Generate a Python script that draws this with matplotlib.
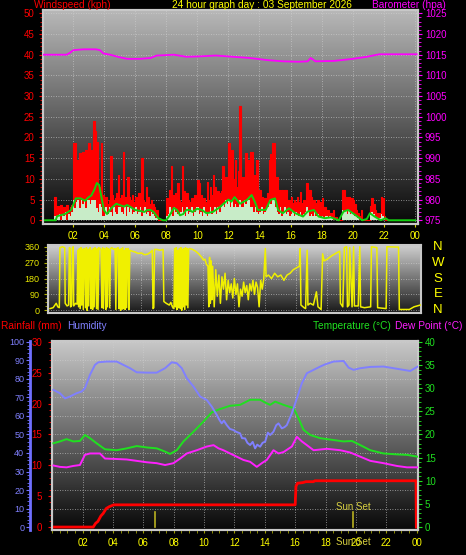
import numpy as np
import matplotlib
matplotlib.use('Agg')
import matplotlib.pyplot as plt
from matplotlib.colors import LinearSegmentedColormap
from matplotlib.ticker import MultipleLocator
from matplotlib.transforms import blended_transform_factory as btf

plt.rcParams['font.family'] = ['Liberation Sans', 'DejaVu Sans']

# ---------------- data ----------------
hour_ticks = [2, 4, 6, 8, 10, 12, 14, 16, 18, 20, 22, 24]
hour_labels = ['02', '04', '06', '08', '10', '12', '14', '16', '18', '20', '22', '00']

# wind, one value per 6 minutes (0.1 h), kph
wind_gust = [
    0, 0, 0, 0, 0, 0, 0, 0, 5.6, 2.5,
    3.5, 2.0, 3.7, 1.7, 3.3, 2.5, 3.7, 2.0, 3.3, 3.7,
    18.6, 18.6, 13, 14.6, 16.2, 11, 16.5, 15, 17, 13.5,
    18.6, 16.2, 17, 24, 21.5, 19, 5.7, 8, 18.6, 6,
    3.5, 5.7, 4, 5, 15.5, 6, 5, 5.5, 6.5, 11,
    5.5, 6, 16.6, 5.7, 4.5, 10.5, 5.7, 5, 6, 4.5,
    5.7, 5, 6.5, 5, 15, 5, 4.5, 8, 5.7, 4,
    5, 4, 3.3, 2.5, 2.5, 0, 0, 0, 0, 0,
    5.3, 5.3, 7.3, 13, 6, 4.5, 6.5, 9, 5, 4.5,
    13, 7, 5, 6.5, 5, 4.5, 5.5, 5, 6, 5,
    9.7, 9, 6, 5, 5.5, 4.5, 9.3, 5, 8, 6,
    11, 8, 6.5, 7, 6.5, 7, 13, 6.5, 10.5, 10,
    18.6, 11.4, 17, 10, 14.6, 8, 12, 27.5, 10.5, 10.5,
    10.5, 16.2, 14.6, 13.4, 16.6, 16.6, 11, 9.7, 14.6, 7.3,
    7.3, 5.7, 4.9, 5.3, 5.5, 6.5, 14.6, 16, 18.6, 18.6,
    10.5, 10.5, 7.3, 5.7, 7.3, 5.5, 7.3, 7.3, 5, 4.9,
    5.7, 4.1, 5, 4.5, 5.7, 4.5, 6.9, 4.1, 5, 4.5,
    9, 7.3, 7.3, 5.7, 5, 4.9, 4.1, 4.9, 3.3, 4.5,
    5.3, 3.3, 3.3, 2.5, 2.5, 1.7, 1.7, 2.5, 0.9, 0.9,
    0, 0, 0, 7.3, 7.3, 5.7, 4.9, 5.7, 4.5, 5.5,
    4.9, 4.0, 2.5, 1.7, 1.0, 2.5, 0, 0, 0, 0,
    0, 3.5, 5.3, 4, 2.5, 1.7, 0.9, 1.7, 5.7, 5.3,
    1, 0, 0, 0, 0, 0, 0, 0, 0, 0,
    0, 0, 0, 0, 0, 0, 0, 0, 0, 0,
]
wind_speed = [
    0, 0, 0, 0, 0, 0, 0, 0, 1, 0,
    1, 1.5, 0, 1.5, 1, 2, 0, 1.5, 1, 2,
    5, 3, 4.5, 5, 3, 5, 4, 5, 3, 5,
    5, 4, 5, 5, 5, 3, 2, 4, 3.3, 1,
    1, 3.3, 1.5, 3.3, 2, 1, 3.3, 2, 1.5, 3.3,
    3.3, 2, 1.5, 3.3, 1, 3.3, 2, 3.3, 1.5, 2,
    3.3, 1.5, 2, 3.3, 1, 2, 3.3, 1.5, 2, 1,
    2, 1.5, 1, 0.5, 0.5, 0, 0, 0, 0, 0,
    1, 1.5, 3.3, 1.5, 1, 3.3, 2, 1.5, 1, 2,
    3.3, 2, 1, 3.3, 1.5, 2, 3.3, 1, 2, 3.3,
    3.3, 1.5, 2, 1, 3.3, 2, 1, 2, 3.3, 1.5,
    2, 3.3, 1.5, 3.3, 2, 3.3, 4, 3.3, 5, 4,
    5, 3.3, 5, 3.3, 4, 3.3, 3.3, 5, 3.3, 3.3,
    5, 4, 5, 5, 3.3, 3.3, 2, 3.3, 2, 1.5,
    2, 3.3, 1.5, 2, 3.3, 3.3, 5, 4, 5, 5,
    3.3, 2, 1.5, 3.3, 1, 2, 3.3, 1.5, 2, 1,
    1.5, 2, 1, 2, 1.5, 1, 2, 1, 1.5, 2,
    3.3, 2, 1, 1.5, 1, 2, 1, 1.5, 1, 0.5,
    1, 0.5, 1, 1, 0.5, 1, 0.5, 0, 0, 0,
    0, 0, 0, 2.5, 2, 2.5, 1.5, 2.5, 1.5, 2,
    1.5, 1, 1, 0.5, 0, 0, 0, 0, 0, 0,
    0, 1.5, 2, 1.5, 1, 0.5, 0, 0.5, 1.5, 1,
    0.5, 0, 0, 0, 0, 0, 0, 0, 0, 0,
    0, 0, 0, 0, 0, 0, 0, 0, 0, 0,
]
wind_hours = np.arange(len(wind_gust)) * 0.1 + 0.05

avg_hours = [0.1, 0.9, 1.0, 1.5, 1.9, 2.2, 2.5, 2.8, 3.0, 3.2, 3.4, 3.55, 3.7, 3.85,
             4.0, 4.2, 4.5, 4.8, 5.0, 5.3, 5.5, 5.8, 6.0, 6.3, 6.6, 6.8, 7.0, 7.2,
             7.5, 7.8, 8.0, 8.2, 8.5, 8.7, 8.9, 9.1, 9.3, 9.5, 9.7, 10.0, 10.3, 10.6,
             11.0, 11.4, 11.7, 12.0, 12.2, 12.4, 12.75, 13.0, 13.2, 13.5, 13.7, 13.9,
             14.1, 14.4, 14.7, 15.0, 15.2, 15.5, 15.9, 16.3, 16.8, 17.1, 17.5, 17.8,
             18.2, 18.6, 19.1, 19.4, 19.7, 20.0, 20.3, 20.6, 20.9, 21.1, 21.4, 21.8,
             22.1, 22.3, 24.0]
avg_speed = [0, 0, 1, 1.5, 2.5, 5.3, 5.3, 4.7, 5.5, 6.0, 7.5, 9.0, 8.5, 5.5,
             2.5, 1.5, 3.0, 4.0, 3.7, 3.3, 3.7, 3.0, 2.5, 2.3, 2.0, 2.5, 2.5, 2.0,
             0.5, 0, 0, 1.0, 3.0, 2.5, 1.2, 1.5, 2.5, 2.5, 2.0, 2.8, 2.5, 1.7,
             2.0, 3.0, 4.0, 5.0, 4.5, 5.6, 4.0, 4.5, 4.9, 6.1, 4.5, 2.5,
             2.5, 2.5, 4.9, 5.3, 2.5, 1.7, 2.9, 1.7, 0.9, 2.1, 2.5, 0.9,
             0.5, 0.7, 0, 2.1, 2.5, 1.7, 0.9, 0, 0.3, 1.7, 0.9, 0,
             0.5, 0, 0]

baro_hours = [0.1, 1.6, 1.8, 2.04, 2.7, 3.5, 3.75, 3.97, 4.4, 5.0, 5.5, 6.3, 7.0, 7.4,
              8.0, 8.5, 9.3, 10.2, 11.2, 12.3, 13.4, 14.5, 15.5, 16.5, 17.1, 17.3,
              17.6, 18.8, 20.0, 20.9, 21.7, 23.0, 24.1]
baro_hpa = [1015.0, 1015.0, 1015.4, 1016.1, 1016.3, 1016.3, 1016.1, 1015.3, 1015.0,
            1014.4, 1014.0, 1014.0, 1014.2, 1014.8, 1014.9, 1015.0, 1014.5, 1014.6,
            1014.8, 1014.5, 1014.2, 1013.7, 1013.4, 1013.3, 1013.4, 1014.2, 1013.4,
            1013.5, 1014.0, 1014.5, 1015.1, 1015.1, 1015.1]

dir_hours = [0.1, 0.3, 0.5, 0.6, 0.7, 0.74, 0.9, 1.05, 1.08, 1.2, 1.3, 1.35, 1.4, 1.43,
             1.5, 1.55, 1.6, 1.63, 1.75, 1.85, 1.9, 1.95, 2.0, 2.05, 2.1, 2.15, 2.2,
             2.25, 2.3, 2.35, 2.4, 2.45, 2.5, 2.55, 2.6, 2.65, 2.7, 2.75, 2.8, 2.85,
             2.9, 2.95, 3.0, 3.05, 3.1, 3.15, 3.2, 3.25, 3.3, 3.35, 3.4, 3.45, 3.5,
             3.55, 3.6, 3.65, 3.7, 3.75, 3.8, 3.85, 3.9, 3.95, 4.0, 4.1, 4.2, 4.3,
             4.35, 4.4, 4.5, 4.55, 4.6, 4.65, 4.7, 4.75, 4.8, 4.85, 4.9, 4.95, 5.0,
             5.05, 5.1, 5.15, 5.2, 5.25, 5.4, 5.6, 5.8, 6.0, 6.2, 6.4, 6.6, 6.7, 6.75,
             6.8, 6.85, 7.0, 7.2, 7.4, 7.45, 7.6, 7.8, 7.9, 8.0, 8.1, 8.15, 8.2, 8.25,
             8.3, 8.35, 8.4, 8.45, 8.5, 8.55, 8.6, 8.65, 8.7, 8.75, 8.8, 8.85, 8.9,
             8.95, 9.0, 9.05, 9.1, 9.3, 9.5, 9.7, 9.9, 10.0, 10.1, 10.2, 10.3, 10.35,
             10.4, 10.45, 10.5, 10.55, 10.6, 10.7, 10.8, 10.9, 11.0, 11.1, 11.2, 11.3,
             11.4, 11.5, 11.6, 11.7, 11.8, 11.9, 12.0, 12.1, 12.2, 12.3, 12.4, 12.5,
             12.6, 12.7, 12.8, 12.9, 13.0, 13.1, 13.2, 13.3, 13.4, 13.5, 13.6, 13.7,
             13.8, 13.9, 14.0, 14.05, 14.2, 14.4, 14.6, 14.8, 15.0, 15.2, 15.4, 15.6,
             15.8, 16.0, 16.2, 16.25, 16.3, 16.5, 16.6, 16.7, 16.75, 16.9, 17.1, 17.3,
             17.4, 17.6, 17.7, 17.8, 18.0, 18.3, 18.6, 18.8, 18.85, 19.0, 19.1, 19.25,
             19.3, 19.4, 19.45, 19.6, 19.7, 19.75, 20.0, 20.1, 20.15, 20.4, 20.8, 20.85,
             21.2, 21.25, 21.8, 21.85, 22.6, 22.65, 23.3, 23.6, 24.0]
dir_deg = [10, 15, 40, 20, 15, 355, 360, 355, 40, 25, 30, 355, 350, 20,
           30, 355, 360, 25, 40, 35, 340, 20, 350, 10, 355, 30, 345,
           5, 350, 340, 15, 355, 0, 345, 25, 350, 355, 10, 340, 5,
           350, 20, 355, 345, 10, 350, 5, 355, 345, 350, 340, 15, 355,
           10, 350, 345, 5, 355, 20, 350, 345, 15, 350, 355, 345, 350,
           5, 350, 355, 10, 345, 0, 350, 5, 355, 10, 340, 5, 350,
           15, 345, 350, 5, 340, 335, 330, 322, 325, 315, 318, 330, 340, 10,
           15, 345, 345, 340, 345, 50, 40, 30, 45, 20, 10, 350, 20, 355,
           5, 340, 15, 350, 10, 355, 0, 345, 20, 350, 5, 355, 30,
           350, 15, 345, 350, 345, 335, 320, 300, 285, 290, 260, 250, 20,
           300, 40, 280, 60, 250, 20, 230, 80, 200, 40, 190, 120,
           210, 60, 170, 100, 150, 70, 180, 90, 150, 20, 120, 80,
           160, 100, 140, 60, 150, 110, 170, 90, 160, 130, 20, 170,
           120, 180, 350, 190, 200, 180, 210, 190, 200, 170, 200, 210,
           230, 240, 250, 350, 30, 15, 10, 340, 30, 40, 30, 105,
           20, 5, 320, 280, 290, 310, 325, 335, 40, 20, 355, 360,
           20, 30, 355, 20, 360, 25, 25, 360, 20, 15, 20, 360,
           355, 15, 10, 360, 358, 5, 5, 20, 30]

hum_hours = [0.07, 0.5, 0.84, 1.16, 1.6, 1.93, 2.15, 2.48, 2.81, 3.03, 3.58, 4.24,
             4.68, 5.12, 5.56, 6.22, 6.88, 7.43, 7.87, 8.2, 8.53, 8.86, 9.3, 9.74,
             10.18, 10.51, 10.84, 11.0, 11.16, 11.3, 11.49, 11.7, 11.93, 12.1, 12.37,
             12.5, 12.7, 12.85, 13.03, 13.2, 13.36, 13.5, 13.69, 13.85, 14.02, 14.2,
             14.35, 14.57, 14.75, 14.9, 15.12, 15.3, 15.45, 15.78, 16.11, 16.44,
             16.77, 17.21, 17.65, 17.98, 18.53, 19.19, 19.52, 19.85, 20.29, 20.95,
             21.82, 22.48, 23.14, 23.58, 24.07]
humidity = [74.1, 72.3, 69.5, 70.5, 72.3, 73.2, 75.0, 82.2, 87.6, 89.0, 89.4, 89.4,
            87.6, 85.8, 83.6, 83.4, 83.4, 85.8, 89.0, 88.5, 85.8, 80.4, 75.9, 70.5,
            68.6, 65.0, 60.5, 58.0, 56.0, 57.5, 55.1, 53.0, 52.4, 51.5, 50.6,
            48.0, 47.9, 45.5, 44.3, 46.0, 42.5, 44.5, 43.4, 45.5, 46.1, 51.0,
            49.7, 51.5, 55.0, 56.0, 53.3, 54.0, 55.1, 61.4, 69.5, 77.7,
            83.1, 84.9, 86.7, 87.9, 89.4, 89.7, 86.1, 84.9, 85.8, 86.5,
            86.7, 85.8, 84.9, 84.3, 86.7]

temp_hours = [0.07, 0.5, 0.94, 1.38, 1.82, 2.15, 2.48, 2.92, 3.47, 4.24, 4.9, 5.56,
              6.22, 6.88, 7.43, 7.76, 8.2, 8.64, 9.3, 9.96, 10.51, 11.05, 11.71,
              12.37, 13.03, 13.69, 14.02, 14.35, 14.68, 15.23, 15.89, 16.22, 16.55,
              16.99, 17.65, 18.53, 19.19, 19.74, 20.29, 20.95, 21.82, 22.7, 23.36, 24.07]
temperature = [18.1, 18.5, 19.0, 18.5, 18.6, 19.9, 19.2, 18.1, 16.8, 16.6, 17.0, 17.5,
               17.2, 17.0, 16.3, 15.8, 16.6, 18.5, 20.6, 22.8, 24.8, 25.5, 26.2,
               26.4, 27.5, 27.5, 26.9, 26.4, 27.1, 26.4, 25.7, 23.5, 21.0,
               19.9, 19.2, 18.8, 18.5, 18.6, 17.7, 16.6, 15.9, 15.7, 15.6, 15.2]

dew_hours = [0.07, 0.5, 0.94, 1.38, 1.82, 2.15, 2.48, 3.14, 3.47, 4.24, 4.9, 5.56,
             6.22, 6.88, 7.43, 7.98, 8.42, 8.86, 9.52, 10.18, 10.62, 10.95, 11.27,
             11.71, 12.15, 12.59, 13.03, 13.47, 13.8, 14.13, 14.57, 14.9, 15.23,
             15.78, 16.11, 16.44, 16.77, 17.21, 18.09, 18.97, 19.63, 20.29, 20.95,
             21.82, 22.7, 23.36, 24.07]
dewpoint = [13.3, 13.0, 12.9, 13.2, 13.4, 15.6, 15.9, 15.9, 14.8, 14.7, 14.6, 14.3,
            14.0, 13.8, 13.4, 13.8, 14.8, 15.9, 16.6, 17.4, 17.7, 17.0, 16.6,
            15.9, 15.2, 14.5, 14.1, 13.0, 13.8, 14.5, 16.6, 15.9, 16.2,
            17.4, 19.5, 18.5, 17.7, 16.6, 16.9, 16.6, 16.1, 15.2, 14.3,
            13.8, 13.2, 12.9, 12.9]

rain_hours = [0.07, 2.7, 2.85, 3.0, 3.2, 3.35, 3.55, 3.75, 4.05, 16.0, 16.05, 16.15,
              16.5, 16.7, 17.2, 17.3, 23.96, 23.98]
rain_mm = [0, 0, 0.6, 0.9, 1.8, 2.2, 3.0, 3.3, 3.6, 3.6, 6.6, 7.1,
           7.2, 7.35, 7.35, 7.5, 7.5, 0]

sun_hours = [6.75, 19.8]
sun_names = ['', 'Sun Set']
sun_mark = 2.4

# ---------------- figure ----------------
W, H = 466, 555
fig = plt.figure(figsize=(W / 100, H / 100), dpi=100, facecolor='black')


def pos(l, t, r, b):
    return [l / W, 1 - b / H, (r - l) / W, (b - t) / H]


def gradient(ax, top, bot, xl, yl):
    g = np.linspace(0, 1, 256).reshape(-1, 1)
    cm = LinearSegmentedColormap.from_list('g', [top, bot])
    ax.imshow(g, extent=[xl[0], xl[1], yl[0], yl[1]], aspect='auto', cmap=cm,
              origin='upper', zorder=0, interpolation='bilinear')
    ax.set_xlim(*xl)
    ax.set_ylim(*yl)


def frame(ax):
    for s in ax.spines.values():
        s.set_color('#c8c8c8')
        s.set_linewidth(1.5)


GRID = dict(color='#d0d0d0', linestyle=(0, (1, 2)), linewidth=0.6, alpha=0.8)
FS = 7
TFS = 7.3

# ---- top panel: wind & barometer ----
ax1 = fig.add_axes(pos(43, 10, 418, 224))
ax1.set_facecolor('black')
gradient(ax1, '#b8b8b8', '#080808', (0.09, 24.19), (-0.9, 50.8))
ax1.fill_between(wind_hours, 0, wind_gust, step='mid', color='#ff0000', lw=0, zorder=2)
ax1.step(wind_hours, wind_gust, where='mid', color='#ff0000', lw=0.8, zorder=2)
ax1.fill_between(wind_hours, 0, wind_speed, step='mid', color='#c8ecc8', lw=0, zorder=3)
ax1.plot(avg_hours, avg_speed, color='#10d010', lw=1.4, zorder=4)
ax1.set_xticks(hour_ticks)
ax1.set_xticklabels(hour_labels)
ax1.yaxis.set_major_locator(MultipleLocator(5))
ax1.yaxis.set_minor_locator(MultipleLocator(1))
ax1.tick_params(axis='y', which='both', colors='red', labelsize=FS, pad=3)
ax1.tick_params(axis='y', which='major', length=3)
ax1.tick_params(axis='y', which='minor', length=2)
ax1.tick_params(axis='x', colors='#d0d000', labelcolor='#ffff00', labelsize=FS,
                length=2, pad=3)
ax1.set_axisbelow(True)
ax1.grid(True, which='major', **GRID)
frame(ax1)

ax1b = ax1.twinx()
ax1b.set_ylim(974.1, 1025.8)
ax1b.plot(baro_hours, baro_hpa, color='#ff00ff', lw=1.3, zorder=5)
ax1b.yaxis.set_major_locator(MultipleLocator(5))
ax1b.yaxis.set_minor_locator(MultipleLocator(1))
ax1b.tick_params(axis='y', which='both', colors='#ff00ff', labelsize=FS, pad=2)
ax1b.tick_params(axis='y', which='major', length=3)
ax1b.tick_params(axis='y', which='minor', length=2)
frame(ax1b)

fig.text(34 / W, 1 - 5.5 / H, 'Windspeed (kph)', color='red', fontsize=TFS, va='center')
fig.text(172 / W, 1 - 5.5 / H, '24 hour graph day : 03 September 2026', color='#ffff00',
         fontsize=TFS, va='center')
fig.text(372 / W, 1 - 5.5 / H, 'Barometer (hpa)', color='#ff00ff', fontsize=TFS,
         va='center')

# ---- middle panel: wind direction ----
ax2 = fig.add_axes(pos(48, 245, 421, 313))
gradient(ax2, '#d0d0d0', '#181818', (-0.03, 24.05), (-15, 370))
ax2.plot(dir_hours, dir_deg, color='#f0f000', lw=1.1, zorder=3)
ax2.set_yticks([0, 90, 180, 270, 360])
ax2.yaxis.set_minor_locator(MultipleLocator(22.5))
ax2.set_xticks(hour_ticks)
ax2.tick_params(axis='x', length=0, labelbottom=False)
ax2.tick_params(axis='y', which='both', colors='#b0b000', labelcolor='#e8e800',
                labelsize=FS - 0.5, pad=3)
ax2.tick_params(axis='y', which='major', length=3)
ax2.tick_params(axis='y', which='minor', length=2)
ax2.set_axisbelow(True)
ax2.grid(True, which='major', **GRID)
frame(ax2)
tr2 = btf(ax2.transAxes, ax2.transData)
for lab, d in zip(['N', 'W', 'S', 'E', 'N'], [360, 270, 180, 90, 0]):
    ax2.text(1.046, d, lab, transform=tr2, color='#ffff00', fontsize=9.5,
             ha='center', va='center')

# ---- bottom panel: rain, humidity, temperature, dew point ----
ax3 = fig.add_axes(pos(52, 341, 418, 530))
gradient(ax3, '#c8c8c8', '#080808', (-0.02, 24.09), (-0.48, 30.15))
ax3.plot(rain_hours, rain_mm, color='#ff0000', lw=2, zorder=6)
for sh, nm in zip(sun_hours, sun_names):
    ax3.plot([sh, sh], [0, sun_mark], color='#b8b020', lw=1.2, zorder=5)
    if nm:
        ax3.text(sh, sun_mark + 0.05, nm, color='#d8d040', fontsize=7, ha='center',
                 va='bottom', zorder=6)
        ax3.text(sh, -0.036, nm, transform=btf(ax3.transData, ax3.transAxes),
                 color='#d8d040', fontsize=FS, ha='center', va='top')
ax3.yaxis.set_major_locator(MultipleLocator(5))
ax3.yaxis.set_minor_locator(MultipleLocator(1))
ax3.tick_params(axis='y', which='both', colors='red', labelsize=FS, pad=4)
ax3.tick_params(axis='y', which='major', length=3)
ax3.tick_params(axis='y', which='minor', length=2)
ax3.set_xticks(hour_ticks)
ax3.set_xticklabels(hour_labels)
ax3.xaxis.set_minor_locator(MultipleLocator(0.5))
ax3.tick_params(axis='x', which='both', colors='#a0a000', labelcolor='#ffff00',
                labelsize=FS, length=2, pad=4)
ax3.set_axisbelow(True)
ax3.grid(True, which='major', axis='x', **GRID)
for yv in np.arange(3, 31, 3):
    ax3.axhline(yv, zorder=0.5, **GRID)
frame(ax3)

axt = ax3.twinx()
axt.set_ylim(-0.64, 40.2)
axt.plot(temp_hours, temperature, color='#20e020', lw=1.4, zorder=4)
axt.plot(dew_hours, dewpoint, color='#ff20ff', lw=1.4, zorder=4)
axt.yaxis.set_major_locator(MultipleLocator(5))
axt.yaxis.set_minor_locator(MultipleLocator(1))
axt.tick_params(axis='y', which='both', colors='#20e020', labelsize=FS, pad=2)
axt.tick_params(axis='y', which='major', length=3)
axt.tick_params(axis='y', which='minor', length=2)
frame(axt)

axh = ax3.twinx()
axh.set_ylim(-1.6, 100.5)
axh.plot(hum_hours, humidity, color='#8080ff', lw=1.4, zorder=4)
axh.yaxis.set_ticks_position('left')
axh.yaxis.set_label_position('left')
axh.spines['left'].set_position(('outward', 16))
axh.spines['left'].set_color('#7070ff')
axh.spines['left'].set_linewidth(2)
for s in ['right', 'top', 'bottom']:
    axh.spines[s].set_visible(False)
axh.yaxis.set_major_locator(MultipleLocator(10))
axh.yaxis.set_minor_locator(MultipleLocator(2))
axh.tick_params(axis='y', which='both', colors='#7070ff', labelcolor='#8080ff',
                labelsize=FS - 0.5, pad=1)
axh.tick_params(axis='y', which='major', length=3)
axh.tick_params(axis='y', which='minor', length=2)

fig.text(1 / W, 1 - 326 / H, 'Rainfall (mm)', color='red', fontsize=TFS, va='center')
fig.text(67 / W, 1 - 326 / H, 'Humidity', color='#8080ff', fontsize=TFS, va='center')
fig.text(313 / W, 1 - 326 / H, 'Temperature (°C)', color='#20e020', fontsize=TFS,
         va='center')
fig.text(395 / W, 1 - 326 / H, 'Dew Point (°C)', color='#ff20ff', fontsize=TFS,
         va='center')

fig.savefig('out.png', dpi=100, facecolor='black')
